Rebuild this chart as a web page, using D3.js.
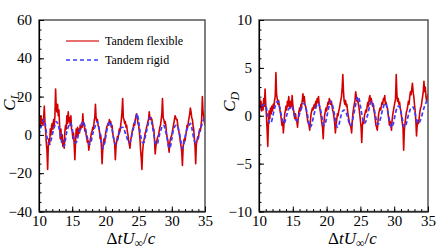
<!DOCTYPE html>
<html>
<head>
<meta charset="utf-8">
<script src="https://cdn.jsdelivr.net/npm/d3@7"></script>
<style>
  body { margin: 0; background: #fff; }
  svg { display: block; }
  svg text { font-family: "Liberation Serif", "DejaVu Serif", serif !important; fill: #000; }
</style>
</head>
<body>
<div id="chart"></div>
<script>
// tempo inicial e passos de amostragem
const tStart = 10;
const dtFlex = 0.1;
const dtRigid = 0.2;

const xTicks = [10, 15, 20, 25, 30, 35];
const clTicks = [-40, -20, 0, 20, 40, 60];
const cdTicks = [-10, -5, 0, 5, 10];

const legendLabels = ["Tandem flexible", "Tandem rigid"];

// C_L, flexivel (passo 0.1)
const clFlex = [
  2, 9, 4, 10, 6, 8, 5, 9, 15, 6,
  2, -4, -8, -18, -6, -2, -5, 3, 0, 5,
  6, 3, 8, 5, 10, 24, 14, 12, 16, 10,
  13, 5, -2, 3, -4, 0, -6, -3, -7, 2,
  5, 3, 10, 6, 12, 7, 9, 5, 10, 3,
  2, -2, 1, -5, -13, -4, 3, -1, 4, 0,
  3, 1, 5, 3, 6, 4, 11, 5, 6, 2,
  3, 0, -2, -4, -3, -8, -5, -3, -1, 1,
  2, 4, 3, 7, 9, 16, 9, 7, 8, 5,
  4, 2, -2, 0, -6, -15, -8, -4, -2, -4,
  0, 2, 4, 5, 6, 5, 8, 6, 7, 4,
  5, 1, -1, -3, -5, -13, -6, -3, -1, -2,
  1, 3, 2, 5, 8, 12, 19, 9, 8, 6,
  7, 4, 5, 2, 0, -3, -5, -7, -3, -1,
  1, 3, 4, 6, 5, 8, 10, 11, 9, 6,
  5, 2, -2, -8, -12, -18, -9, -5, -3, -1,
  1, 2, 4, 5, 7, 8, 12, 9, 8, 9,
  8, 6, 3, 3, -3, -10, -6, -4, -2, -1,
  0, 2, 4, 5, 8, 11, 19, 9, 8, 6,
  7, 5, 1, -1, -3, -6, -9, -4, -2, -1,
  0, 2, 4, 6, 8, 10, 9, 8, 8, 5,
  3, 1, -1, -4, -6, -9, -16, -7, -3, -2,
  -3, 0, 2, 5, 4, 7, 9, 11, 14, 12,
  9, 8, 5, 3, -2, -6, -15, -5, -3, -1,
  -2, 1, 3, 2, 5, 8, 20, 12, 10, 7,
  5
];

// C_L, rigido (passo 0.2)
const clRigid = [
  0, 3, 5, 7, 8,
  4, -1, -4, -5, -3,
  0, 3, 5, 7, 6,
  4, 0, -3, -5, -6,
  -2, 2, 4, 6, 6,
  3, -1, -4, -4, -2,
  1, 3, 5, 7, 6,
  3, 0, -3, -5, -4,
  -1, 2, 4, 6, 7,
  4, 0, -4, -7, -5,
  -2, 2, 5, 7, 6,
  3, -1, -4, -5, -3,
  0, 2, 4, 4, 3,
  1, -1, -3, -4, -3,
  0, 3, 6, 9, 11,
  7, 2, -2, -4, -4,
  -1, 2, 5, 8, 9,
  6, 2, -2, -5, -5,
  -2, 1, 3, 5, 5,
  3, 0, -4, -7, -6,
  -2, 2, 4, 5, 5,
  3, 0, -4, -7, -5,
  -1, 2, 4, 5, 6,
  4, 0, -3, -4, -3,
  -1, 2, 4, 6, 8,
  8
];

// C_D, flexivel (passo 0.1)
const cdFlex = [
  0.5, 1.8, 0.8, 1.5, 0.5, 1.2, 0.6, 1.8, 1.0, 2.8,
  1.2, 0.0, -1.5, -3.2, -0.8, 0.5, -0.3, 0.8, 0.2, 1.0,
  0.5, 1.2, 0.8, 1.6, 2.0, 4.5, 2.2, 1.8, 1.2, 1.6,
  1.0, 0.6, 0.2, -0.4, -1.0, -0.6, -1.8, -0.8, 0.2, 0.5,
  1.0, 0.6, 1.5, 1.0, 2.0, 1.2, 0.8, 1.5, 1.0, 2.1,
  1.2, 0.6, 0.2, -0.3, 0.2, -0.4, -0.6, -1.2, -0.3, 0.4,
  0.8, 0.5, 1.2, 1.0, 1.6, 2.3, 1.5, 2.0, 1.2, 1.0,
  0.6, 0.0, -0.5, -0.8, -1.0, -1.5, -0.6, 0.2, 0.5, 0.8,
  0.6, 1.0, 1.2, 0.8, 1.5, 1.2, 1.8, 1.4, 2.0, 1.2,
  0.8, 0.3, -0.2, -0.8, -1.2, -2.4, -0.8, 0.0, 0.4, 0.8,
  0.5, 1.0, 1.4, 1.2, 1.8, 1.6, 1.2, 1.5, 1.0, 0.6,
  0.3, -0.2, -0.8, -1.8, -1.0, -0.4, 0.2, 0.0, 0.5, 0.8,
  1.2, 1.6, 2.0, 2.8, 4.3, 2.5, 1.5, 1.2, 1.6, 1.0,
  1.2, 0.5, 0.0, -0.4, -0.8, -1.0, -1.2, -1.8, -0.6, 0.3,
  0.8, 1.2, 1.6, 2.5, 2.0, 1.5, 1.8, 1.2, 0.8, 0.2,
  -0.5, -1.2, -2.8, -1.0, -0.5, -0.8, 0.0, 0.3, 0.6, 0.4,
  1.0, 1.4, 1.0, 1.8, 2.1, 1.5, 1.8, 1.4, 1.0, 1.2,
  0.6, 0.2, -0.4, -1.0, -1.2, -1.5, -0.6, 0.2, 0.5, 0.8,
  0.6, 1.0, 1.4, 1.2, 1.8, 1.6, 2.1, 1.2, 1.4, 1.0,
  0.8, 0.2, -0.4, -1.0, -0.6, -1.0, -1.5, -0.4, 0.2, 0.6,
  1.0, 1.4, 1.8, 4.3, 2.2, 1.5, 1.8, 1.2, 1.4, 0.8,
  0.4, -0.2, -0.8, -1.2, -3.6, -1.5, -0.8, -0.2, 0.4, 0.6,
  1.0, 1.5, 1.2, 2.0, 2.5, 2.2, 2.8, 3.4, 2.5, 2.0,
  1.2, 0.5, -0.5, -2.1, -1.0, -0.5, -0.8, -0.2, 0.4, 0.8,
  1.0, 1.5, 2.0, 2.5, 3.6, 2.5, 3.0, 2.0, 1.5, 1.8,
  2.3
];

// C_D, rigido (passo 0.2)
const cdRigid = [
  0.4, 0.8, 1.0, 1.1, 1.2,
  1.1, 0.4, -0.3, -0.8, -0.7,
  -0.2, 0.5, 1.0, 1.4, 1.5,
  1.1, 0.4, -0.3, -0.8, -0.7,
  -0.2, 0.3, 0.7, 0.9, 1.0,
  0.7, 0.1, -0.4, -0.5, -0.3,
  0.2, 0.6, 1.0, 1.3, 1.1,
  0.6, 0.0, -0.8, -1.2, -0.9,
  -0.3, 0.3, 0.8, 1.2, 1.3,
  0.9, 0.3, -0.5, -1.0, -0.8,
  -0.2, 0.5, 1.1, 1.5, 1.3,
  0.7, 0.0, -0.8, -1.2, -1.0,
  -0.4, 0.2, 0.5, 0.6, 0.5,
  0.1, -0.4, -0.9, -1.0, -0.6,
  0.1, 0.8, 1.5, 2.0, 1.8,
  1.0, 0.2, -0.5, -0.8, -0.6,
  -0.1, 0.5, 1.1, 1.5, 1.4,
  0.8, 0.1, -0.6, -0.9, -0.7,
  -0.2, 0.4, 0.9, 1.3, 1.2,
  0.6, -0.1, -0.8, -1.2, -1.0,
  -0.4, 0.3, 0.8, 1.0, 0.9,
  0.4, -0.3, -1.0, -1.2, -0.8,
  -0.2, 0.3, 0.7, 0.9, 0.9,
  0.5, -0.1, -0.6, -0.8, -0.6,
  -0.2, 0.3, 0.8, 1.2, 1.5,
  1.8
];

const W = 448, H = 250;
const fonte = "Liberation Serif";

const svg = d3.select("#chart").append("svg")
  .attr("width", W)
  .attr("height", H)
  .attr("font-family", fonte);

const corFlex = "#d40000";
const corRigid = "#3b3bff";

function painel(opts) {
  const { left, right, top, bottom, yDomain, yTicks, yMinor, flex, rigid, sub } = opts;

  const x = d3.scaleLinear().domain([10, 35]).range([left, right]);
  const y = d3.scaleLinear().domain(yDomain).range([bottom, top]);

  const g = svg.append("g");

  const clipId = "clip-" + sub;
  g.append("clipPath").attr("id", clipId)
    .append("rect")
    .attr("x", left).attr("y", top)
    .attr("width", right - left).attr("height", bottom - top);

  const line = d3.line()
    .x(d => x(d[0]))
    .y(d => y(d[1]));

  const flexPts = flex.map((v, i) => [tStart + i * dtFlex, v]);
  const rigidPts = rigid.map((v, i) => [tStart + i * dtRigid, v]);

  const curvas = g.append("g").attr("clip-path", `url(#${clipId})`);
  curvas.append("path")
    .datum(flexPts)
    .attr("fill", "none")
    .attr("stroke", corFlex)
    .attr("stroke-width", 1.6)
    .attr("stroke-linejoin", "round")
    .attr("d", line);

  curvas.append("path")
    .datum(rigidPts)
    .attr("fill", "none")
    .attr("stroke", corRigid)
    .attr("stroke-width", 1.7)
    .attr("stroke-dasharray", "4,2.5")
    .attr("d", line.curve(d3.curveMonotoneX));

  // moldura (topo e direita em cinza)
  g.append("rect")
    .attr("x", left).attr("y", top)
    .attr("width", right - left).attr("height", bottom - top)
    .attr("fill", "none")
    .attr("stroke", "#555")
    .attr("stroke-width", 1.5);

  // eixo x
  const xAxis = d3.axisBottom(x).tickValues(xTicks).tickSizeInner(-5).tickSizeOuter(0);
  const gx = g.append("g").attr("transform", `translate(0,${bottom})`).call(xAxis)
    .attr("font-family", fonte);
  gx.selectAll(".tick text").attr("font-size", 15).attr("y", 3).attr("dy", "0.75em");
  gx.select(".domain").attr("stroke", "#000").attr("stroke-width", 1.2);

  const xMinor = d3.axisBottom(x).tickValues(d3.range(10, 35.01, 1)).tickSize(-2.5).tickFormat("");
  const gxm = g.append("g").attr("transform", `translate(0,${bottom})`).call(xMinor);
  gxm.select(".domain").remove();

  // eixo y
  const yAxis = d3.axisLeft(y).tickValues(yTicks).tickSizeInner(-5).tickSizeOuter(0);
  const gy = g.append("g").attr("transform", `translate(${left},0)`).call(yAxis)
    .attr("font-family", fonte);
  gy.selectAll(".tick text").attr("font-size", 15).attr("x", -7).attr("dy", "0.3em");
  gy.select(".domain").attr("stroke", "#000").attr("stroke-width", 1.2);

  const yMin = d3.axisLeft(y).tickValues(d3.range(yDomain[0], yDomain[1] + 0.001, yMinor)).tickSize(-2.5).tickFormat("");
  const gym = g.append("g").attr("transform", `translate(${left},0)`).call(yMin);
  gym.select(".domain").remove();

  // titulos dos eixos
  const yl = g.append("text")
    .attr("transform", `translate(${left - 24},${(top + bottom) / 2 - 14}) rotate(-90)`)
    .attr("text-anchor", "middle")
    .attr("font-size", 17);
  yl.append("tspan").attr("font-style", "italic").text("C");
  yl.append("tspan").attr("font-style", "italic").attr("font-size", 12).attr("dy", 4).text(sub);

  const xl = g.append("text")
    .attr("x", (left + right) / 2 + 9)
    .attr("y", 244)
    .attr("text-anchor", "middle")
    .attr("font-size", 17);
  xl.append("tspan").text("Δ");
  xl.append("tspan").attr("font-style", "italic").text("tU");
  xl.append("tspan").attr("font-size", 12).attr("dy", 3).text("∞");
  xl.append("tspan").attr("dy", -3).text("/");
  xl.append("tspan").attr("font-style", "italic").text("c");

  return { x, y, g };
}

painel({
  left: 39, right: 205, top: 20, bottom: 211.5,
  yDomain: [-40, 60], yTicks: clTicks, yMinor: 5,
  flex: clFlex, rigid: clRigid, sub: "L"
});

painel({
  left: 259, right: 428, top: 20, bottom: 211.5,
  yDomain: [-10, 10], yTicks: cdTicks, yMinor: 1,
  flex: cdFlex, rigid: cdRigid, sub: "D"
});

// legenda
const leg = svg.append("g");
[corFlex, corRigid].forEach((c, i) => {
  const yy = 41 + i * 19;
  leg.append("line")
    .attr("x1", 66).attr("x2", 99)
    .attr("y1", yy).attr("y2", yy)
    .attr("stroke", c)
    .attr("stroke-width", i === 0 ? 1.6 : 1.3)
    .attr("stroke-dasharray", i === 0 ? null : "4,3")
    .attr("opacity", i === 0 ? 0.75 : 1);
  leg.append("text")
    .attr("x", 105).attr("y", yy + 4)
    .attr("font-size", 12)
    .text(legendLabels[i]);
});
</script>
</body>
</html>
